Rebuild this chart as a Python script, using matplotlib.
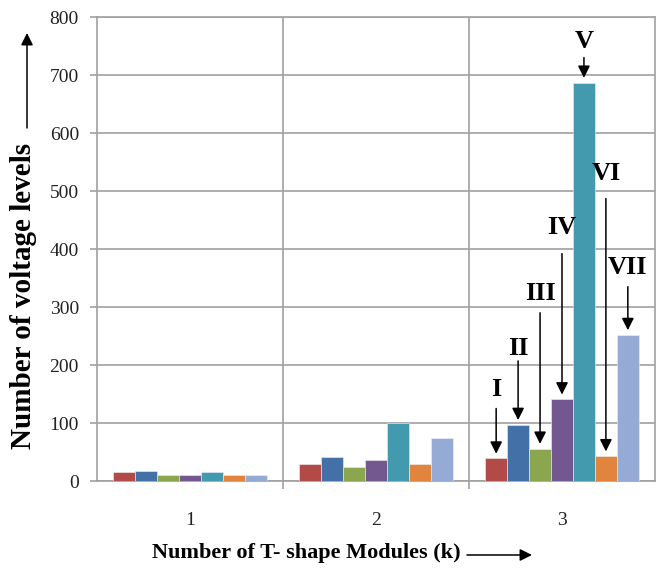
import numpy as np
import matplotlib.pyplot as plt

# values
modules = ['1', '2', '3']
series_names = ['I', 'II', 'III', 'IV', 'V', 'VI', 'VII']
s1 = [15, 29, 39]
s2 = [18, 42, 97]
s3 = [11, 25, 56]
s4 = [11, 36, 141]
s5 = [15, 100, 687]
s6 = [11, 29, 43]
s7 = [11, 74, 252]
levels = [s1, s2, s3, s4, s5, s6, s7]
colors = ['#B24A48', '#4470A8', '#8AA64E', '#73578F', '#4399AE', '#E0843E', '#95AAD4']
y_ticks = [0, 100, 200, 300, 400, 500, 600, 700, 800]

plt.rcParams['font.family'] = ['Liberation Serif', 'DejaVu Serif']

fig = plt.figure(figsize=(6.6, 5.73), dpi=100)
ax = fig.add_axes([97 / 660, 92 / 573, 558 / 660, 464 / 573])

x = np.arange(len(modules))
w = 0.118
for i, vals in enumerate(levels):
    ax.bar(x + (i - 3) * w, vals, width=w, color=colors[i],
           edgecolor='#f0f0f0', linewidth=0.4, zorder=3)

ax.set_xlim(-0.5, 2.5)
ax.set_ylim(0, 800)
ax.set_yticks(y_ticks)
ax.set_xticks(x)
ax.set_xticklabels(modules)
ax.set_xticks([0.5, 1.5], minor=True)
ax.grid(axis='y', color='#a0a0a0', linewidth=1.2, zorder=0)
ax.grid(axis='x', which='minor', color='#a0a0a0', linewidth=1.2, zorder=0)
for sp in ax.spines.values():
    sp.set_color('#a0a0a0')
    sp.set_linewidth(1.2)
ax.tick_params(axis='y', length=5, width=1.2, color='#a0a0a0', pad=8,
               labelsize=14, labelcolor='#222222')
ax.tick_params(axis='x', which='major', length=0, pad=22,
               labelsize=14, labelcolor='#222222')
ax.tick_params(axis='x', which='minor', length=6, width=1.2, color='#a0a0a0')

# roman numeral call-outs over the k=3 group
tails = [125, 207, 290, 392, 730, 487, 335]
label_y = [158, 228, 323, 437, 758, 531, 368]
for i, name in enumerate(series_names):
    bx = x[2] + (i - 3) * w
    top = levels[i][2]
    ax.annotate('', xy=(bx, top + 8), xytext=(bx, tails[i]),
                arrowprops=dict(arrowstyle='-|>,head_length=0.6,head_width=0.3',
                                color='black', lw=1.1, mutation_scale=12,
                                shrinkA=0, shrinkB=0), zorder=5)
    ax.text(bx, label_y[i], name, ha='center', va='center', fontsize=19,
            fontweight='bold', color='black', zorder=6)

fig.text(24 / 660, 1 - 296 / 573, 'Number of voltage levels', rotation=90,
         ha='center', va='center', fontsize=21, fontweight='bold')
fig.text(306 / 660, 1 - 553 / 573, 'Number of T- shape Modules (k)',
         ha='center', va='center', fontsize=16, fontweight='bold')

arrow_kw = dict(arrowstyle='-|>,head_length=0.6,head_width=0.3', color='black',
                lw=1.1, mutation_scale=12, shrinkA=0, shrinkB=0)
ax.annotate('', xy=(27 / 660, 1 - 33 / 573), xytext=(27 / 660, 1 - 128 / 573),
            xycoords='figure fraction', arrowprops=arrow_kw)
ax.annotate('', xy=(532 / 660, 1 - 555 / 573), xytext=(467 / 660, 1 - 555 / 573),
            xycoords='figure fraction', arrowprops=arrow_kw)

fig.savefig('out.png', dpi=100)
